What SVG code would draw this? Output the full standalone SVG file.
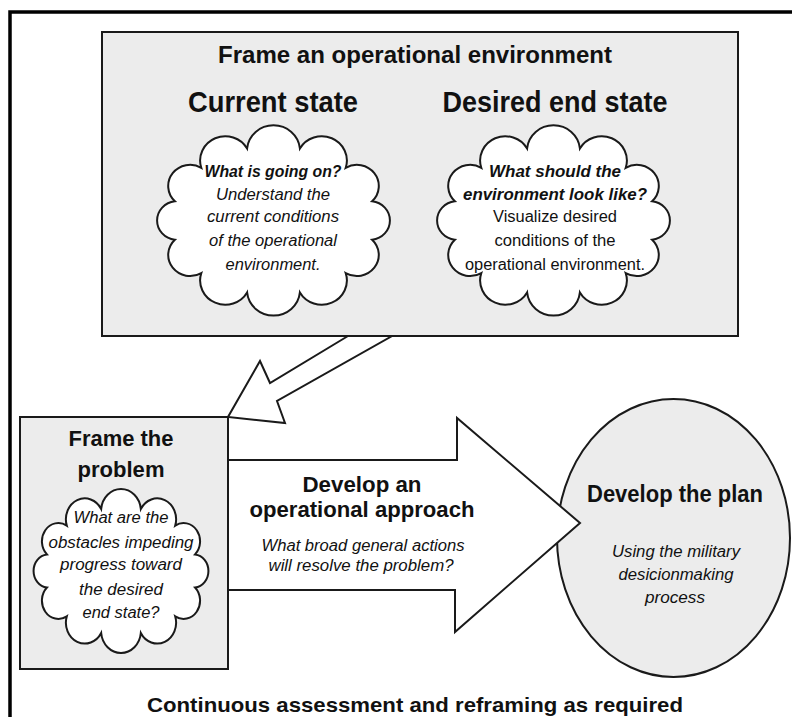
<svg xmlns="http://www.w3.org/2000/svg" xmlns:xlink="http://www.w3.org/1999/xlink" width="792" height="717" viewBox="0 0 792 717">
<style>
.ln{stroke:#1a1a1a;stroke-width:2;stroke-linejoin:miter}
.panel{fill:#ececec}
.white{fill:#ffffff}
.t{font-family:"Liberation Sans",Arial,sans-serif;fill:#111;text-anchor:middle}
.h{font-weight:bold}
.i{font-style:italic}
.bi{font-weight:bold;font-style:italic}
.body{font-size:16px}
</style>
<defs>
<path id="cloud" vector-effect="non-scaling-stroke" d="M78.8,20.1 A21.3,21.3 0 0 1 121.2,20.1 A20.2,20.2 0 0 1 158,36.2 A17.6,17.6 0 0 1 179.2,64 A16.1,16.1 0 0 1 179.2,96 A17.6,17.6 0 0 1 158,123.8 A20.2,20.2 0 0 1 121.2,139.9 A21.3,21.3 0 0 1 78.8,139.9 A20.2,20.2 0 0 1 42,123.8 A17.6,17.6 0 0 1 20.8,96 A16.1,16.1 0 0 1 20.8,64 A17.6,17.6 0 0 1 42,36.2 A20.2,20.2 0 0 1 78.8,20.1 Z"/>
</defs>
<rect width="792" height="717" fill="#ffffff"/>
<path d="M10,717 V12 H792" fill="none" stroke="#000" stroke-width="3.5"/>

<g id="frame-environment">
<rect class="panel ln" x="102" y="32" width="636" height="304"/>
<text class="t h" x="415" y="63" font-size="23" textLength="394" lengthAdjust="spacingAndGlyphs">Frame an operational environment</text>
<text class="t h" x="273" y="112" font-size="30" textLength="170" lengthAdjust="spacingAndGlyphs">Current state</text>
<text class="t h" x="555" y="112" font-size="30" textLength="225" lengthAdjust="spacingAndGlyphs">Desired end state</text>
<g id="current-state">
<use xlink:href="#cloud" href="#cloud" class="white ln" transform="translate(149,124.3) scale(1.245,1.202)"/>
<text class="t body bi" x="273" y="177" textLength="137" lengthAdjust="spacingAndGlyphs">What is going on?</text>
<text class="t body i" x="273" y="200" textLength="114" lengthAdjust="spacingAndGlyphs">Understand the</text>
<text class="t body i" x="273" y="222" textLength="132" lengthAdjust="spacingAndGlyphs">current conditions</text>
<text class="t body i" x="273" y="246" textLength="128" lengthAdjust="spacingAndGlyphs">of the operational</text>
<text class="t body i" x="273" y="270" textLength="95" lengthAdjust="spacingAndGlyphs">environment.</text>
</g>
<g id="desired-end-state">
<use xlink:href="#cloud" href="#cloud" class="white ln" transform="translate(429,124.3) scale(1.245,1.202)"/>
<text class="t body bi" x="555" y="177" textLength="132" lengthAdjust="spacingAndGlyphs">What should the</text>
<text class="t body bi" x="555" y="200" textLength="184" lengthAdjust="spacingAndGlyphs">environment look like?</text>
<text class="t body" x="555" y="222" textLength="124" lengthAdjust="spacingAndGlyphs">Visualize desired</text>
<text class="t body" x="555" y="246" textLength="121" lengthAdjust="spacingAndGlyphs">conditions of the</text>
<text class="t body" x="555" y="270" textLength="180" lengthAdjust="spacingAndGlyphs">operational environment.</text>
</g>
</g>

<g id="frame-problem">
<rect class="panel ln" x="20" y="417" width="208" height="252"/>
<text class="t h" x="121" y="446" font-size="22" textLength="105" lengthAdjust="spacingAndGlyphs">Frame the</text>
<text class="t h" x="121" y="477" font-size="22" textLength="87" lengthAdjust="spacingAndGlyphs">problem</text>
<use xlink:href="#cloud" href="#cloud" class="white ln" transform="translate(27.5,488.1) scale(0.935,1.036)"/>
<text class="t body i" x="121" y="523" textLength="95" lengthAdjust="spacingAndGlyphs">What are the</text>
<text class="t body i" x="121" y="548" textLength="145" lengthAdjust="spacingAndGlyphs">obstacles impeding</text>
<text class="t body i" x="121" y="570" textLength="122" lengthAdjust="spacingAndGlyphs">progress toward</text>
<text class="t body i" x="121" y="595" textLength="84" lengthAdjust="spacingAndGlyphs">the desired</text>
<text class="t body i" x="121" y="618" textLength="77" lengthAdjust="spacingAndGlyphs">end state?</text>
</g>

<g id="develop-plan">
<ellipse class="panel ln" cx="673.5" cy="538" rx="116.5" ry="139"/>
<text class="t h" x="675" y="502" font-size="23" textLength="176" lengthAdjust="spacingAndGlyphs">Develop the plan</text>
<text class="t body i" x="676" y="557" textLength="128" lengthAdjust="spacingAndGlyphs">Using the military</text>
<text class="t body i" x="676" y="580" textLength="115" lengthAdjust="spacingAndGlyphs">desicionmaking</text>
<text class="t body i" x="675" y="603" textLength="60" lengthAdjust="spacingAndGlyphs">process</text>
</g>

<g id="develop-approach">
<polygon class="white ln" points="228,460 457,460 457,418 580,523 455,632 455,590 228,590"/>
<text class="t h" x="362" y="492" font-size="22" textLength="119" lengthAdjust="spacingAndGlyphs">Develop an</text>
<text class="t h" x="362" y="517" font-size="22" textLength="225" lengthAdjust="spacingAndGlyphs">operational approach</text>
<text class="t body i" x="363" y="551" textLength="203" lengthAdjust="spacingAndGlyphs">What broad general actions</text>
<text class="t body i" x="361" y="571" textLength="185" lengthAdjust="spacingAndGlyphs">will resolve the problem?</text>
</g>

<g id="connectors">
<polygon class="white ln" points="348,336 270,383 260,361 228,417 285,423 277,401 392,336"/>
</g>

<g id="footer">
<text class="t h" x="415" y="712" font-size="21" textLength="536" lengthAdjust="spacingAndGlyphs">Continuous assessment and reframing as required</text>
</g>
</svg>
